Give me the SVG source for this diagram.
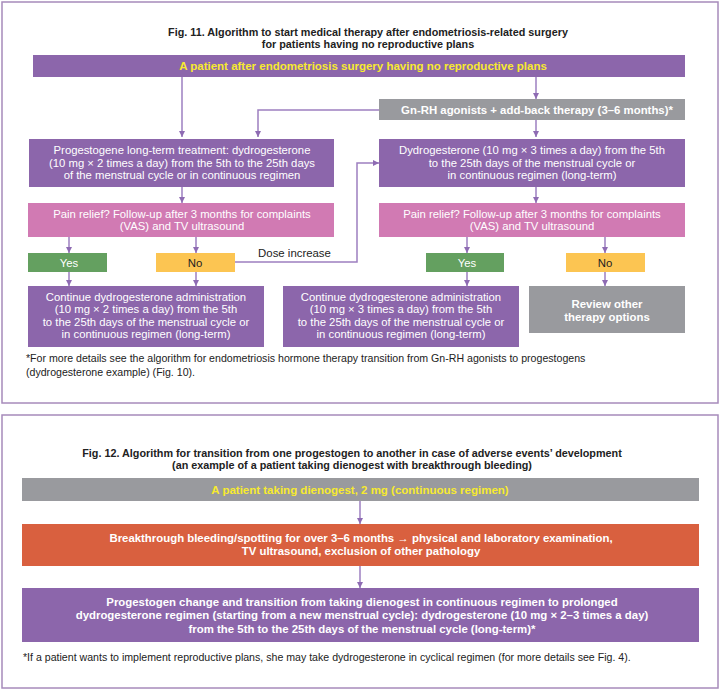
<svg xmlns="http://www.w3.org/2000/svg" width="720" height="690" viewBox="0 0 720 690">
<defs>
<marker id="ah" viewBox="0 0 10 10" refX="10" refY="5" markerWidth="6" markerHeight="6" markerUnits="userSpaceOnUse" orient="auto">
<path d="M0,0 L10,5 L0,10 Z" fill="#8e6bb3"/>
</marker>
<style>
.panel{fill:#fff;stroke:#a78bbb;stroke-width:1.5}
.pur{fill:#8c66ab}
.pink{fill:#d17ab3}
.green{fill:#64a060}
.yel{fill:#fcc552}
.gray{fill:#999a9e}
.orng{fill:#d9603f}
text{font-family:"Liberation Sans",Arial,sans-serif;text-anchor:middle}
.t{font-size:11.3px;fill:#fff}
.tb{font-size:11.4px;fill:#fff;font-weight:bold}
.ty{font-size:11.5px;fill:#f7ea2f;font-weight:bold}
.title{font-size:10.8px;fill:#222;font-weight:bold}
.fn{font-size:10.6px;fill:#222;text-anchor:start}
.lbl{font-size:11.4px;fill:#222}
.c{fill:none;stroke:#9d7fc0;stroke-width:1.5}
</style>
</defs>
<rect class="panel" x="2" y="2" width="716" height="401"/>
<rect class="panel" x="2" y="415" width="716" height="273"/>
<g id="title11">
<text class="title" x="368" y="36">Fig. 11. Algorithm to start medical therapy after endometriosis-related surgery</text>
<text class="title" x="368" y="48">for patients having no reproductive plans</text>
</g>
<g id="connectors">
<path class="c" d="M182,77 V137" marker-end="url(#ah)"/>
<path class="c" d="M536,77 V99" marker-end="url(#ah)"/>
<path class="c" d="M379,110 H258 V137" marker-end="url(#ah)"/>
<path class="c" d="M536,120 V137" marker-end="url(#ah)"/>
<path class="c" d="M182,187 V203" marker-end="url(#ah)"/>
<path class="c" d="M536,187 V203" marker-end="url(#ah)"/>
<path class="c" d="M69,237 V253" marker-end="url(#ah)"/>
<path class="c" d="M196,237 V253" marker-end="url(#ah)"/>
<path class="c" d="M467,237 V253" marker-end="url(#ah)"/>
<path class="c" d="M605,237 V253" marker-end="url(#ah)"/>
<path class="c" d="M69,272 V286" marker-end="url(#ah)"/>
<path class="c" d="M196,272 V286" marker-end="url(#ah)"/>
<path class="c" d="M467,272 V286" marker-end="url(#ah)"/>
<path class="c" d="M605,272 V286" marker-end="url(#ah)"/>
<path class="c" d="M235,262 H357 V163 H379" marker-end="url(#ah)"/>
<path class="c" d="M360,501 V524" marker-end="url(#ah)"/>
<path class="c" d="M360,566 V588" marker-end="url(#ah)"/>
</g>
<text class="lbl" x="294.5" y="257">Dose increase</text>
<g id="start11">
<rect class="pur" x="33" y="55" width="652" height="22"/>
<text class="ty" x="363" y="70">A patient after endometriosis surgery having no reproductive plans</text>
</g>
<g id="gnrh">
<rect class="gray" x="379" y="99" width="306" height="21"/>
<text class="tb" x="537" y="113.5">Gn-RH agonists + add-back therapy (3–6 months)*</text>
</g>
<g id="prog">
<rect class="pur" x="29" y="139" width="305" height="48"/>
<text class="t" x="182" y="154">Progestogene long-term treatment: dydrogesterone</text>
<text class="t" x="182" y="166.5">(10 mg × 2 times a day) from the 5th to the 25th days</text>
<text class="t" x="182" y="179">of the menstrual cycle or in continuous regimen</text>
</g>
<g id="dydro">
<rect class="pur" x="379" y="139" width="306" height="48"/>
<text class="t" x="532" y="154">Dydrogesterone (10 mg × 3 times a day) from the 5th</text>
<text class="t" x="532" y="166.5">to the 25th days of the menstrual cycle or</text>
<text class="t" x="532" y="179">in continuous regimen (long-term)</text>
</g>
<g id="pain1">
<rect class="pink" x="28" y="203" width="306" height="34"/>
<text class="t" x="182" y="217.5">Pain relief? Follow-up after 3 months for complaints</text>
<text class="t" x="182" y="230">(VAS) and TV ultrasound</text>
</g>
<g id="pain2">
<rect class="pink" x="379" y="203" width="306" height="34"/>
<text class="t" x="532" y="217.5">Pain relief? Follow-up after 3 months for complaints</text>
<text class="t" x="532" y="230">(VAS) and TV ultrasound</text>
</g>
<g id="yes1">
<rect class="green" x="28" y="253" width="79" height="19"/>
<text class="t" x="69" y="266.5">Yes</text>
</g>
<g id="no1">
<rect class="yel" x="156" y="253" width="79" height="19"/>
<text class="lbl" x="195" y="266.5">No</text>
</g>
<g id="yes2">
<rect class="green" x="426" y="253" width="78" height="19"/>
<text class="t" x="467" y="266.5">Yes</text>
</g>
<g id="no2">
<rect class="yel" x="566" y="253" width="79" height="19"/>
<text class="lbl" x="605" y="266.5">No</text>
</g>
<g id="cont1">
<rect class="pur" x="28" y="286" width="236" height="61"/>
<text class="t" x="146" y="300.5">Continue dydrogesterone administration</text>
<text class="t" x="146" y="313">(10 mg × 2 times a day) from the 5th</text>
<text class="t" x="146" y="325.5">to the 25th days of the menstrual cycle or</text>
<text class="t" x="146" y="338">in continuous regimen (long-term)</text>
</g>
<g id="cont2">
<rect class="pur" x="283" y="286" width="236" height="61"/>
<text class="t" x="401" y="300.5">Continue dydrogesterone administration</text>
<text class="t" x="401" y="313">(10 mg × 3 times a day) from the 5th</text>
<text class="t" x="401" y="325.5">to the 25th days of the menstrual cycle or</text>
<text class="t" x="401" y="338">in continuous regimen (long-term)</text>
</g>
<g id="review">
<rect class="gray" x="529" y="286" width="156" height="47"/>
<text class="tb" x="607" y="308">Review other</text>
<text class="tb" x="607" y="320.5">therapy options</text>
</g>
<text class="fn" x="26" y="362">*For more details see the algorithm for endometriosis hormone therapy transition from Gn-RH agonists to progestogens</text>
<text class="fn" x="26" y="376">(dydrogesterone example) (Fig. 10).</text>
<g id="title12">
<text class="title" x="352" y="457">Fig. 12. Algorithm for transition from one progestogen to another in case of adverse events’ development</text>
<text class="title" x="352" y="469">(an example of a patient taking dienogest with breakthrough bleeding)</text>
</g>
<g id="start12">
<rect class="gray" x="22" y="478" width="677" height="23"/>
<text class="ty" x="360" y="494">A patient taking dienogest, 2 mg (continuous regimen)</text>
</g>
<g id="bleed">
<rect class="orng" x="22" y="524" width="677" height="42"/>
<text class="tb" x="361" y="542">Breakthrough bleeding/spotting for over 3–6 months → physical and laboratory examination,</text>
<text class="tb" x="361" y="555">TV ultrasound, exclusion of other pathology</text>
</g>
<g id="change">
<rect class="pur" x="22" y="588" width="677" height="54"/>
<text class="tb" x="362" y="606">Progestogen change and transition from taking dienogest in continuous regimen to prolonged</text>
<text class="tb" x="362" y="619">dydrogesterone regimen (starting from a new menstrual cycle): dydrogesterone (10 mg × 2–3 times a day)</text>
<text class="tb" x="362" y="633">from the 5th to the 25th days of the menstrual cycle (long-term)*</text>
</g>
<text class="fn" x="23" y="661">*If a patient wants to implement reproductive plans, she may take dydrogesterone in cyclical regimen (for more details see Fig. 4).</text>
</svg>
